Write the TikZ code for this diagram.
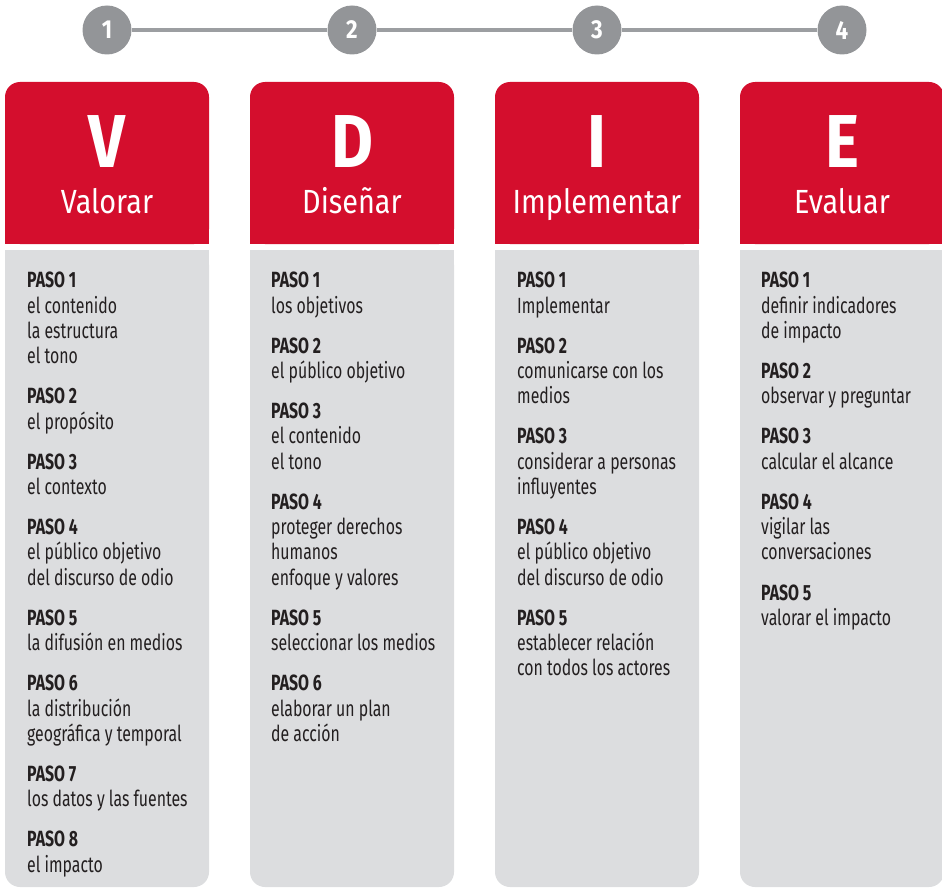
\documentclass[tikz,border=0pt]{standalone}
\usepackage{fontspec}
\setmainfont{Fira Sans}[FakeStretch=0.72]
\newfontfamily\headfont{Fira Sans}[FakeStretch=0.86]
\usetikzlibrary{positioning}

\definecolor{vdired}{RGB}{212,14,45}
\definecolor{stepgray}{RGB}{220,221,223}
\definecolor{dotgray}{RGB}{147,149,152}
\definecolor{linkgray}{RGB}{156,158,161}
\definecolor{textdark}{RGB}{35,31,32}

\begin{document}
\begin{tikzpicture}[x=1pt,y=-1pt,
	numdot/.style={circle,fill=dotgray,minimum size=49pt,inner sep=0pt,text=white,font=\headfont\bfseries\fontsize{26}{26}\selectfont},
	bigletter/.style={anchor=base,inner sep=0pt,text=white,font=\headfont\bfseries\fontsize{75}{75}\selectfont},
	headtitle/.style={anchor=base,inner sep=0pt,text=white,font=\headfont\fontsize{33.5}{33.5}\selectfont},
	steplist/.style={anchor=north west,inner sep=0pt,align=left,text=textdark,font=\fontsize{22}{25.3}\selectfont},
	linkline/.style={draw=linkgray,line width=4pt}]
	\useasboundingbox (0,0) rectangle (942,888);
	\clip (0,0) rectangle (942,888);
	% columns: red head, gray body, number on top
	\foreach \i/\ltr/\ttl in {1/V/Valorar,2/D/Diseñar,3/I/Implementar,4/E/Evaluar}{
		\pgfmathsetmacro\lft{5+245*(\i-1)}
		\fill[vdired,rounded corners=15pt] (\lft,82) rectangle ++(204,162);
		\fill[vdired] (\lft,200) rectangle ++(204,44);
		\fill[stepgray,rounded corners=15pt] (\lft,250) rectangle ++(204,637);
		\fill[stepgray] (\lft,250) rectangle ++(204,60);
		\node[bigletter] (letter\i) at (\lft+102,167) {\ltr};
		\node[headtitle] (title\i) at (\lft+102,213) {\ttl};
		\node[numdot] (num\i) at (\lft+102,30) {\i};
	}
	\draw[linkline] (num1) -- (num2);
	\draw[linkline] (num2) -- (num3);
	\draw[linkline] (num3) -- (num4);
	% the steps
	\node[steplist] (valorar) at (27,272) {\textbf{PASO 1}\\el contenido\\la estructura\\el tono\\[14.8pt]
		\textbf{PASO 2}\\el propósito\\[14.8pt]
		\textbf{PASO 3}\\el contexto\\[14.8pt]
		\textbf{PASO 4}\\el público objetivo\\del discurso de odio\\[14.8pt]
		\textbf{PASO 5}\\la difusión en medios\\[14.8pt]
		\textbf{PASO 6}\\la distribución\\geográfica y temporal\\[14.8pt]
		\textbf{PASO 7}\\los datos y las fuentes\\[14.8pt]
		\textbf{PASO 8}\\el impacto};
	\node[steplist] (disenar) at (271,272) {\textbf{PASO 1}\\los objetivos\\[14.8pt]
		\textbf{PASO 2}\\el público objetivo\\[14.8pt]
		\textbf{PASO 3}\\el contenido\\el tono\\[14.8pt]
		\textbf{PASO 4}\\proteger derechos\\humanos\\enfoque y valores\\[14.8pt]
		\textbf{PASO 5}\\seleccionar los medios\\[14.8pt]
		\textbf{PASO 6}\\elaborar un plan\\de acción};
	\node[steplist] (implementar) at (517,272) {\textbf{PASO 1}\\Implementar\\[14.8pt]
		\textbf{PASO 2}\\comunicarse con los\\medios\\[14.8pt]
		\textbf{PASO 3}\\considerar a personas\\influyentes\\[14.8pt]
		\textbf{PASO 4}\\el público objetivo\\del discurso de odio\\[14.8pt]
		\textbf{PASO 5}\\establecer relación\\con todos los actores};
	\node[steplist] (evaluar) at (761,272) {\textbf{PASO 1}\\definir indicadores\\de impacto\\[14.8pt]
		\textbf{PASO 2}\\observar y preguntar\\[14.8pt]
		\textbf{PASO 3}\\calcular el alcance\\[14.8pt]
		\textbf{PASO 4}\\vigilar las\\conversaciones\\[14.8pt]
		\textbf{PASO 5}\\valorar el impacto};
\end{tikzpicture}
\end{document}
